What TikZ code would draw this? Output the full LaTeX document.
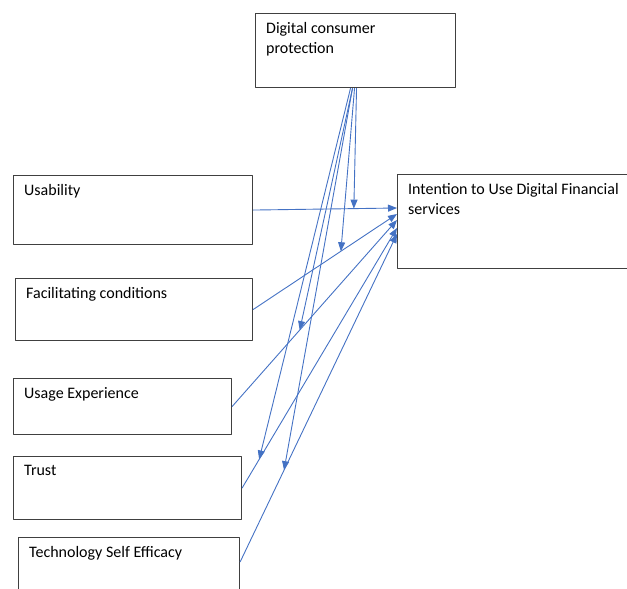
\documentclass[tikz,border=0pt]{standalone}
\usepackage{fontspec}
\setmainfont{Carlito}
\usetikzlibrary{arrows.meta}
\definecolor{linkblue}{RGB}{68,114,196}
\begin{document}
\begin{tikzpicture}[x=1pt, y=-1pt, font=\fontsize{16}{20}\selectfont, line join=round,
	>={Triangle[length=9pt,width=7pt]},
	factor/.style={draw=black!75, line width=1.1pt, rectangle, anchor=north west, inner sep=0pt},
	caption/.style={anchor=north west, align=left, inner xsep=11pt, inner ysep=9pt},
	link/.style={draw=linkblue, line width=0.9pt, ->}]
	\useasboundingbox (0,0) rectangle (627,589);
	\clip (0,0) rectangle (627,589);
	% Boxes
	\node[factor, minimum width=200, minimum height=74, label={[caption]north west:Digital consumer\\protection}] (dcp) at (255,13) {};
	\node[factor, minimum width=235, minimum height=94, label={[caption]north west:Intention to Use Digital Financial\\services}] (intent) at (397,174) {};
	\node[factor, minimum width=239, minimum height=69, label={[caption]north west:Usability}] (usab) at (13,175) {};
	\node[factor, minimum width=237, minimum height=62, label={[caption]north west:Facilitating conditions}] (facil) at (15,278) {};
	\node[factor, minimum width=218, minimum height=56, label={[caption]north west:Usage Experience}] (usage) at (13,378) {};
	\node[factor, minimum width=228, minimum height=63, label={[caption]north west:Trust}] (trust) at (13,456) {};
	\node[factor, minimum width=221, minimum height=70, label={[caption]north west:Technology Self Efficacy}] (tse) at (18,537) {};
	% Direct paths
	\draw[link] (usab.east) -- ([yshift=-34pt]intent.north west) coordinate[pos=.70] (on1);
	\draw[link] (facil.east) -- ([yshift=-40pt]intent.north west) coordinate[pos=.61] (on2);
	\draw[link] (usage.east) -- ([yshift=-46pt]intent.north west) coordinate[pos=.41] (on3);
	\draw[link] (trust.east) -- ([yshift=-54pt]intent.north west) coordinate[pos=.11] (on4);
	\draw[link] ([yshift=-25pt]tse.north east) -- ([yshift=-60pt]intent.north west) coordinate[pos=.28] (on5);
	% Moderation
	\draw[link] ([xshift=1pt]dcp.south) -- (on1);
	\draw[link] ([xshift=-1pt]dcp.south) -- (on2);
	\draw[link] ([xshift=-3pt]dcp.south) -- (on3);
	\draw[link] ([xshift=-5pt]dcp.south) -- (on4);
	\draw[link] ([xshift=-3pt]dcp.south) -- (on5);
\end{tikzpicture}
\end{document}
